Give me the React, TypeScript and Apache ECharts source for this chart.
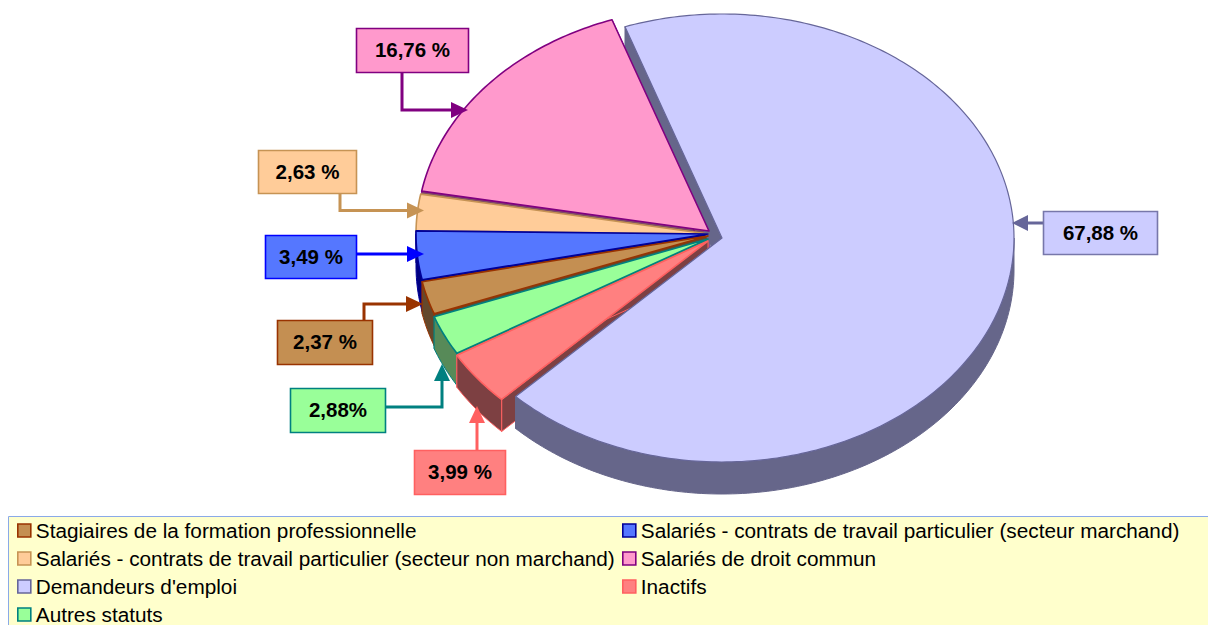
import React, { useEffect, useRef } from "react";
import * as echarts from "echarts";

const categories = [
  "Stagiaires de la formation professionnelle",
  "Salariés - contrats de travail particulier (secteur marchand)",
  "Salariés - contrats de travail particulier (secteur non marchand)",
  "Salariés de droit commun",
  "Demandeurs d'emploi",
  "Inactifs",
  "Autres statuts",
];
const values = [2.37, 3.49, 2.63, 16.76, 67.88, 3.99, 2.88];
const valueLabels = ["2,37 %", "3,49 %", "2,63 %", "16,76 %", "67,88 %", "3,99 %", "2,88%"];
const leftLegendNames = [categories[0], categories[2], categories[4], categories[6]];
const rightLegendNames = [categories[1], categories[3], categories[5]];

const fills = ["#c48f52", "#5577ff", "#ffcc99", "#ff99cc", "#ccccff", "#ff8080", "#99ff99"];
const strokes = ["#993300", "#000099", "#c69354", "#800080", "#666699", "#ff6060", "#008080"];
const sides = ["#64482c", "#000080", "#80664d", "#804d66", "#66668a", "#7d4042", "#578a58"];
const arrowColors = ["#993300", "#0000ff", "#c69354", "#800080", "#666699", "#ff6060", "#008080"];
const boxBorders = ["#993300", "#0000ff", "#c69354", "#800080", "#7777aa", "#ff6060", "#008080"];

// Layout of the elliptical pie
const RX = 292;
const RY = 224;
const DEPTH = 32;
const START_DEG = 249.7;
const centers: number[][] = [
  [708, 236],
  [708, 234],
  [708, 234],
  [709, 231],
  [722, 238],
  [708, 241],
  [708, 239],
];
// Call-outs: box [x0,y0,x1,y1], connector polyline, arrow direction
const callouts: { box: number[]; line: number[][]; dir: string }[] = [
  { box: [277.5, 320.5, 372.5, 364.5], line: [[364, 321], [364, 304], [423, 304]], dir: "right" },
  { box: [265.5, 235.5, 356.5, 278.5], line: [[356, 254], [424, 254]], dir: "right" },
  { box: [258.5, 150.5, 356.5, 193.5], line: [[340, 193], [340, 210.5], [424, 210.5]], dir: "right" },
  { box: [356.5, 28.5, 468.5, 72.5], line: [[402, 72], [402, 110], [468, 110]], dir: "right" },
  { box: [1043.5, 211.5, 1157.5, 254.5], line: [[1043, 223], [1012, 223]], dir: "left" },
  { box: [414.5, 450.5, 505.5, 494.5], line: [[477, 450], [477, 406]], dir: "up" },
  { box: [290.5, 388.5, 385.5, 432.5], line: [[385, 407], [442, 407], [442, 364]], dir: "up" },
];
// Back-to-front painting order of the small slices
const paintOrder = [3, 2, 1, 0, 6, 5];

const total = values.reduce((a, b) => a + b, 0);

function sliceRange(index: number, value: number) {
  let t = START_DEG;
  for (let i = 0; i < index; i++) t += (values[i] / total) * 360;
  return [t, t + (value / total) * 360];
}

function arcPoint(c: number[], deg: number) {
  const a = (deg * Math.PI) / 180;
  return [c[0] + RX * Math.sin(a), c[1] - RY * Math.cos(a)];
}

function arcPoints(c: number[], t0: number, t1: number) {
  const pts: number[][] = [];
  const n = Math.max(2, Math.ceil(t1 - t0));
  for (let i = 0; i <= n; i++) pts.push(arcPoint(c, t0 + ((t1 - t0) * i) / n));
  return pts;
}

const down = (p: number[]) => [p[0], p[1] + DEPTH];

function arrowHead(line: number[][], dir: string) {
  const tip = line[line.length - 1];
  const [x, y] = tip;
  if (dir === "right") return [tip, [x - 17, y - 8], [x - 17, y + 8]];
  if (dir === "left") return [tip, [x + 16, y - 8], [x + 16, y + 8]];
  return [tip, [x - 8, y + 17], [x + 8, y + 17]];
}

function makeRenderItem(index: number) {
  return (_params: any, api: any) => {
    const value = api.value(0);
    const [t0, t1] = sliceRange(index, value);
    const c = centers[index];
    const isMain = index === 4;
    const order = paintOrder.indexOf(index);
    const sideZ = isMain ? 10 : 1 + order;
    const topZ = isMain ? 11 : 20 + order;
    const sideStyle = { fill: sides[index], stroke: isMain ? sides[index] : strokes[index], lineWidth: 1 };
    const children: any[] = [];

    // cut faces
    [t0, t1].forEach((t) => {
      const o = arcPoint(c, t);
      children.push({
        type: "polygon",
        z2: sideZ,
        shape: { points: [c, o, down(o), down(c)] },
        style: sideStyle,
      });
    });
    // rim: only the part of the arc facing the viewer
    const spans: number[][] = [];
    for (const k of [0, 360]) {
      const a = Math.max(t0, 90 + k);
      const b = Math.min(t1, 270 + k);
      if (b > a) spans.push([a, b]);
    }
    spans.forEach(([a, b]) => {
      const arc = arcPoints(c, a, b);
      children.push({
        type: "polygon",
        z2: sideZ,
        shape: { points: arc.concat(arc.slice().reverse().map(down)) },
        style: sideStyle,
      });
    });
    // top face
    children.push({
      type: "polygon",
      z2: topZ,
      shape: { points: [c].concat(arcPoints(c, t0, t1)) },
      style: { fill: fills[index], stroke: strokes[index], lineWidth: isMain ? 1.2 : 1.6, lineJoin: "round" },
    });
    // call-out
    const co = callouts[index];
    const [x0, y0, x1, y1] = co.box;
    const e = co.line[co.line.length - 1];
    const p = co.line[co.line.length - 2];
    const stem = [e[0] - Math.sign(e[0] - p[0]) * 12, e[1] - Math.sign(e[1] - p[1]) * 12];
    children.push({
      type: "polyline",
      z2: 40,
      shape: { points: co.line.slice(0, -1).concat([stem]) },
      style: { fill: "none", stroke: arrowColors[index], lineWidth: 3 },
    });
    children.push({
      type: "polygon",
      z2: 41,
      shape: { points: arrowHead(co.line, co.dir) },
      style: { fill: arrowColors[index], stroke: "none" },
    });
    children.push({
      type: "rect",
      z2: 42,
      shape: { x: x0, y: y0, width: x1 - x0, height: y1 - y0 },
      style: { fill: fills[index], stroke: boxBorders[index], lineWidth: 1.6 },
    });
    children.push({
      type: "text",
      z2: 43,
      style: {
        text: valueLabels[index],
        x: (x0 + x1) / 2,
        y: (y0 + y1) / 2 - 1,
        textAlign: "center",
        textVerticalAlign: "middle",
        fill: "#000000",
        font: 'bold 20.5px "Liberation Sans", Arial, sans-serif',
      },
    });
    return { type: "group", children };
  };
}

function legendData(names: string[]) {
  return names.map((name) => {
    const i = categories.indexOf(name);
    return {
      name,
      icon: "rect",
      itemStyle: { color: fills[i], borderColor: strokes[i], borderWidth: 1.6 },
    };
  });
}

const legendBase = {
  orient: "vertical" as const,
  padding: 0,
  height: 300,
  itemWidth: 13,
  itemHeight: 13,
  itemGap: 7,
  selectedMode: false,
  textStyle: {
    color: "#000000",
    fontSize: 20.75,
    lineHeight: 20,
    fontFamily: '"Liberation Sans", Arial, sans-serif',
  },
};

export default function App() {
  const ref = useRef<HTMLDivElement>(null);
  useEffect(() => {
    document.body.style.margin = "0";
    const chart = echarts.init(ref.current!, undefined, { renderer: "svg" });
    chart.setOption({
      animation: false,
      backgroundColor: "#ffffff",
      graphic: [
        {
          type: "rect",
          z: 0,
          shape: { x: 8.5, y: 516.5, width: 1205, height: 115 },
          style: { fill: "#ffffcc", stroke: "#8aaae8", lineWidth: 1 },
        },
      ],
      legend: [
        { ...legendBase, left: 17, top: 520, data: legendData(leftLegendNames) },
        { ...legendBase, left: 622, top: 520, data: legendData(rightLegendNames) },
      ],
      series: categories.map((name, i) => ({
        type: "custom",
        name,
        coordinateSystem: "none",
        silent: true,
        itemStyle: { color: fills[i] },
        renderItem: makeRenderItem(i),
        data: [[values[i]]],
      })),
    });
    return () => chart.dispose();
  }, []);
  return <div ref={ref} style={{ position: "fixed", left: 0, top: 0, width: 1208, height: 625 }} />;
}
